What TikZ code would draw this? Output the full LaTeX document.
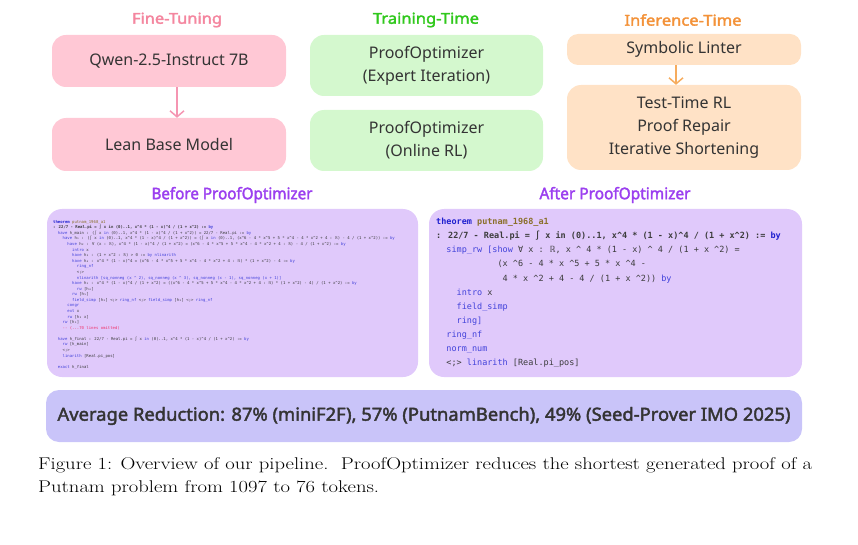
\documentclass[tikz,border=0pt]{standalone}
\usepackage{fontspec}
\newfontfamily\uifont{Noto Sans}[AutoFakeBold=2.2]
\newfontfamily\codefont{DejaVu Sans Mono}
\usetikzlibrary{arrows.meta}
\definecolor{pinkhead}{HTML}{F4869F}
\definecolor{pinkfill}{HTML}{FFC8D5}
\definecolor{pinkarrow}{HTML}{F595B2}
\definecolor{greenhead}{HTML}{30C81C}
\definecolor{greenfill}{HTML}{D4F8CE}
\definecolor{orangehead}{HTML}{F39239}
\definecolor{orangefill}{HTML}{FFE2C6}
\definecolor{orangearrow}{HTML}{F6AC5E}
\definecolor{purplehead}{HTML}{9B3FEF}
\definecolor{panelfill}{HTML}{E0C9FB}
\definecolor{barfill}{HTML}{C9C4F9}
\definecolor{boxtext}{HTML}{343434}
\definecolor{kwdark}{HTML}{1F1FCF}
\definecolor{kwblue}{HTML}{4242DA}
\definecolor{olive}{HTML}{8A6F2A}
\definecolor{codegray}{HTML}{3C3C3C}
\definecolor{omitred}{HTML}{F0306A}
\newcommand\ca{\textasciicircum}
\newcommand\kw[1]{\textcolor{kwblue}{#1}}
\newcommand\kwb[1]{\textcolor{kwdark}{\bfseries #1}}
\newcommand\ol[1]{\textcolor{olive}{#1}}
\newcommand\cind[1]{\hspace*{#1\fontcharwd\font`x}}
\newcommand\fitw[2]{\resizebox{#1}{\height}{#2}}
\newsavebox\capboxa
\begin{document}
\sbox\capboxa{\fontsize{17}{23}\selectfont Figure 1: Overview of our pipeline.\ \ ProofOptimizer reduces the shortest generated proof of a}%
\pgfmathsetmacro\capscale{774/\the\wd\capboxa}%
\begin{tikzpicture}[x=1pt,y=-1pt,
  stagebox/.style={rounded corners=14pt, inner sep=0pt, align=center, text=boxtext,
    font=\uifont\fontsize{16}{23}\selectfont, minimum width=234pt},
  headtext/.style={inner sep=0pt, font=\uifont\bfseries\fontsize{15}{18}\selectfont},
  paneltitle/.style={inner sep=0pt, text=purplehead, font=\uifont\bfseries\fontsize{16}{20}\selectfont},
  panel/.style={rounded corners=15pt, fill=panelfill, inner sep=0pt},
  flowarrow/.style={line width=1.5pt, -{Straight Barb[length=6pt,width=14pt,line width=1.5pt]}},
]
\useasboundingbox (0,0) rectangle (858,545);
% headers
\node[headtext, text=pinkhead] (hft) at (177,20) {\fitw{90pt}{Fine-Tuning}};
\node[headtext, text=greenhead] (htt) at (426,20) {\fitw{106pt}{Training-Time}};
\node[headtext, text=orangehead] (hit) at (683,20) {\fitw{117pt}{Inference-Time}};
% fine-tuning
\node[stagebox, fill=pinkfill, minimum height=52pt] (ft1) at (169,61) {Qwen-2.5-Instruct 7B};
\node[stagebox, fill=pinkfill, minimum height=53pt] (ft2) at (169,144.5) {Lean Base Model};
\draw[flowarrow, pinkarrow] ([xshift=8pt]ft1.south) -- ([xshift=8pt]ft2.north);
% training-time
\node[stagebox, fill=greenfill, minimum width=233pt, minimum height=61pt] (tt1) at (426.5,65.5) {ProofOptimizer\\(Expert Iteration)};
\node[stagebox, fill=greenfill, minimum width=233pt, minimum height=61pt] (tt2) at (426.5,140.5) {ProofOptimizer\\(Online RL)};
% inference-time
\node[stagebox, fill=orangefill, minimum height=31pt, rounded corners=11pt] (it1) at (684,49.5) {Symbolic Linter};
\node[stagebox, fill=orangefill, minimum height=85pt] (it2) at (684,127.5) {Test-Time RL\\Proof Repair\\Iterative Shortening};
\draw[flowarrow, orangearrow] ([xshift=-8pt]it1.south) -- ([xshift=-8pt]it2.north);
% panel titles
\node[paneltitle] (tbefore) at (232,195) {\fitw{161pt}{Before ProofOptimizer}};
\node[paneltitle] (tafter) at (615,195) {\fitw{151pt}{After ProofOptimizer}};
% panels
\node[panel, minimum width=371pt, minimum height=168pt] (pbefore) at (232.5,293) {};
\node[panel, minimum width=373pt, minimum height=168pt] (pafter) at (615.5,293) {};
% before code
\node[anchor=north west, inner sep=0pt, align=left, text=codegray,
  font=\codefont\fontsize{3.95}{5.58}\selectfont] (codebefore) at (53,220) {%
\kwb{theorem} \ol{putnam\_1968\_a1}\\
\textbf{: 22/7 - Real.pi = ∫ x in (0)..1, x\ca 4 * (1 - x)\ca 4 / (1 + x\ca 2) := \kw{by}}\\
\cind{2}\kw{have} h\_main : (∫ x \kw{in} (0)..1, x\ca 4 * (1 - x)\ca 4 / (1 + x\ca 2)) = 22/7 - Real.pi := \kw{by}\\
\cind{4}\kw{have} h₁ : (∫ x \kw{in} (0)..1, x\ca 4 * (1 - x)\ca 4 / (1 + x\ca 2)) = (∫ x \kw{in} (0)..1, (x\ca 6 - 4 * x\ca 5 + 5 * x\ca 4 - 4 * x\ca 2 + 4 : ℝ) - 4 / (1 + x\ca 2)) := \kw{by}\\
\cind{6}\kw{have} h₂ : ∀ (x : ℝ), x\ca 4 * (1 - x)\ca 4 / (1 + x\ca 2) = (x\ca 6 - 4 * x\ca 5 + 5 * x\ca 4 - 4 * x\ca 2 + 4 : ℝ) - 4 / (1 + x\ca 2) := \kw{by}\\
\cind{8}\kw{intro} x\\
\cind{8}\kw{have} h₃ : (1 + x\ca 2 : ℝ) > 0 := \kw{by nlinarith}\\
\cind{8}\kw{have} h₄ : x\ca 4 * (1 - x)\ca 4 = (x\ca 6 - 4 * x\ca 5 + 5 * x\ca 4 - 4 * x\ca 2 + 4 : ℝ) * (1 + x\ca 2) - 4 := \kw{by}\\
\cind{10}\kw{ring\_nf}\\
\cind{10}<;>\\
\cind{10}\kw{nlinarith [sq\_nonneg (x \ca{} 2), sq\_nonneg (x \ca{} 3), sq\_nonneg (x - 1), sq\_nonneg (x + 1)]}\\
\cind{8}\kw{have} h₅ : x\ca 4 * (1 - x)\ca 4 / (1 + x\ca 2) = ((x\ca 6 - 4 * x\ca 5 + 5 * x\ca 4 - 4 * x\ca 2 + 4 : ℝ) * (1 + x\ca 2) - 4) / (1 + x\ca 2) := \kw{by}\\
\cind{10}\kw{rw} [h₄]\\
\cind{8}\kw{rw} [h₅]\\
\cind{8}\kw{field\_simp} [h₃] <;> \kw{ring\_nf} <;> \kw{field\_simp} [h₃] <;> \kw{ring\_nf}\\
\cind{6}\kw{congr}\\
\cind{6}\kw{ext} x\\
\cind{6}\kw{rw} [h₂ x]\\
\cind{4}\kw{rw} [h₁]\\
\cind{4}\textcolor{omitred}{-{}- (...70 lines omitted)}\\
\mbox{}\\
\cind{2}\kw{have} h\_final : 22/7 - Real.pi = ∫ x \kw{in} (0)..1, x\ca 4 * (1 - x)\ca 4 / (1 + x\ca 2) := \kw{by}\\
\cind{4}\kw{rw} [h\_main]\\
\cind{4}<;>\\
\cind{4}\kw{linarith} [Real.pi\_pos]\\
\mbox{}\\
\cind{2}\kw{exact} h\_final};
% after code
\node[anchor=north west, inner sep=0pt, align=left, text=codegray,
  font=\codefont\fontsize{8.5}{14.1}\selectfont] (codeafter) at (436,218) {%
\kwb{theorem} \textcolor{olive}{\bfseries putnam\_1968\_a1}\\
\textbf{: 22/7 - Real.pi = ∫ x in (0)..1, x\ca 4 * (1 - x)\ca 4 / (1 + x\ca 2) := \textcolor{kwdark}{by}}\\
\cind{2}\kw{simp\_rw [show} ∀ x : ℝ, x \ca{} 4 * (1 - x) \ca{} 4 / (1 + x \ca 2) =\\
\cind{12}(x \ca 6 - 4 * x \ca 5 + 5 * x \ca 4 -\\
\cind{13}4 * x \ca 2 + 4 - 4 / (1 + x \ca 2)) \kw{by}\\
\cind{4}\kw{intro} x\\
\cind{4}\kw{field\_simp}\\
\cind{4}\kw{ring]}\\
\cind{2}\kw{ring\_nf}\\
\cind{2}\kw{norm\_num}\\
\cind{2}<;> \kw{linarith} [Real.pi\_pos]};
% bar
\node[rounded corners=13pt, fill=barfill, minimum width=756pt, minimum height=52pt, inner sep=0pt,
  text=boxtext, font=\uifont\bfseries\fontsize{18}{22}\selectfont] (bar) at (424,416)
  {\fitw{733pt}{Average Reduction: 87\% (miniF2F), 57\% (PutnamBench), 49\% (Seed-Prover IMO 2025)}};
% caption
\node[anchor=base west, inner sep=0pt] (cap1) at (38,469)
  {\scalebox{\capscale}[1]{\usebox\capboxa}};
\node[anchor=base west, inner sep=0pt] (cap2) at (38,492)
  {\scalebox{\capscale}[1]{\fontsize{17}{23}\selectfont Putnam problem from 1097 to 76 tokens.}};
\end{tikzpicture}
\end{document}
